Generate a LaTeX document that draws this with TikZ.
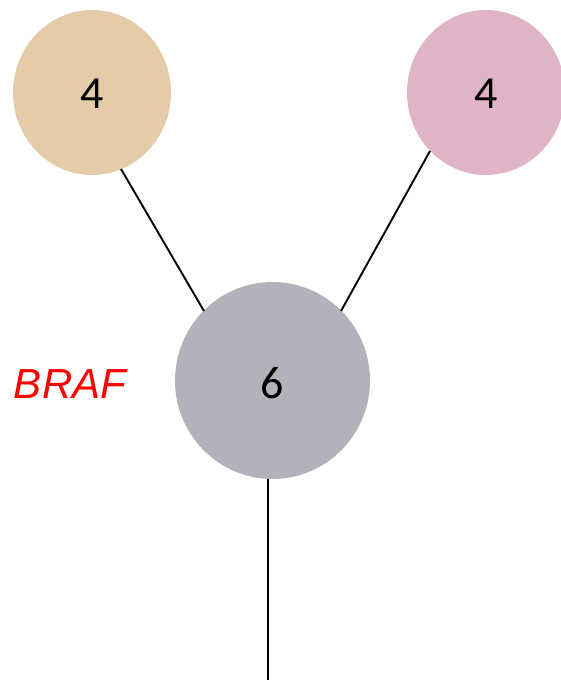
\documentclass[tikz,border=0pt]{standalone}
\usepackage{fontspec}
\setmainfont{Carlito}
\newfontfamily\arialfont{Liberation Sans}
\definecolor{tanc}{HTML}{E3CCA7}
\definecolor{pinkc}{HTML}{E0B4C6}
\definecolor{grayc}{HTML}{B2B2BA}
\begin{document}
\begin{tikzpicture}[x=1pt,y=-1pt,
  num/.style={font=\fontsize{46}{46}\selectfont},
  edge/.style={draw=black,line width=1.9pt}]
\useasboundingbox (0,0) rectangle (561,680);
\fill[tanc] (92,92.5) ellipse [x radius=79, y radius=82.5];
\fill[pinkc] (486,92.5) ellipse [x radius=79, y radius=82.5];
\fill[grayc] (272.5,380.5) ellipse [x radius=97.5, y radius=98.5];
\node[num] (a) at (92,94) {4};
\node[num] (b) at (486,94) {4};
\node[num] (c) at (272.5,383) {6};
\coordinate (a1) at (121,169);
\coordinate (c1) at (204,311);
\coordinate (b1) at (430,151);
\coordinate (c2) at (341,311);
\coordinate (c3) at (268,479);
\coordinate (e) at (268,680);
\draw[edge] (a1) -- (c1);
\draw[edge] (b1) -- (c2);
\draw[edge] (c3) -- (e);
\node[text=red,font=\arialfont\itshape\fontsize{42}{42}\selectfont] (braf) at (70,384) {BRAF};
\end{tikzpicture}
\end{document}
